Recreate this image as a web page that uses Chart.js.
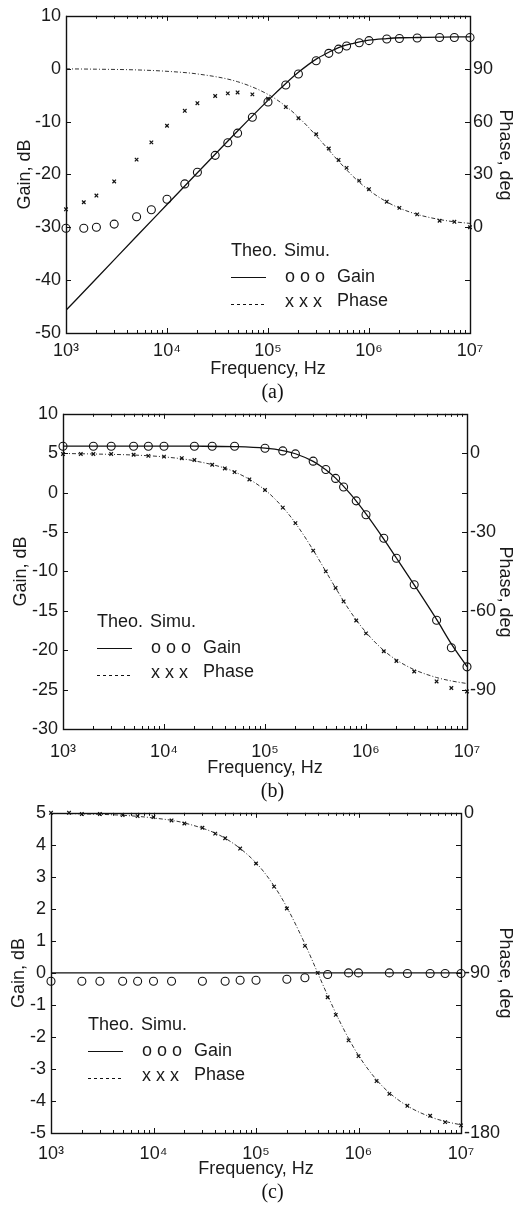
<!DOCTYPE html>
<html>
<head>
<meta charset="utf-8">
<script src="https://cdn.jsdelivr.net/npm/chart.js@4/dist/chart.umd.min.js"></script>
<style>
  html, body { margin: 0; padding: 0; background: #fff; }
  #page { position: relative; width: 521px; height: 1207px; overflow: hidden; }
  canvas { position: absolute; left: 0; }
  .cap { position: absolute; left: 0; width: 545px; text-align: center; font: 20px "Liberation Serif", "Times New Roman", serif; color: #111; }
</style>
</head>
<body>
<div id="page">
  <canvas id="chartA" width="521" height="381" style="top:0px"></canvas>
  <div class="cap" style="top:380px">(a)</div>
  <canvas id="chartB" width="521" height="381" style="top:398px"></canvas>
  <div class="cap" style="top:779px">(b)</div>
  <canvas id="chartC" width="521" height="385" style="top:797px"></canvas>
  <div class="cap" style="top:1180px">(c)</div>
</div>
<script>
// frequency axis
const X_TICKS = [1e3, 1e4, 1e5, 1e6, 1e7];
const X_TICK_LABELS = ['10\u00B3', '10\u2074', '10\u2075', '10\u2076', '10\u2077'];

// theoretical curves
const FREQ_THEO = [1e3, 2e3, 5e3, 1e4, 2e4, 5e4, 1e5, 1.5e5, 2e5, 3e5, 4e5, 5e5, 7e5, 1e6, 1.5e6, 2e6, 3e6, 5e6, 7e6, 1e7];
const GAIN_THEO_A  = [-45.7, -39.7, -31.7, -25.7, -19.7, -11.8, -6.0, -2.8, -0.7, 1.8, 3.1, 4.0, 4.8, 5.4, 5.7, 5.85, 5.9, 5.95, 6.0, 6.0];
const PHASE_THEO_A = [89.9, 89.7, 89.3, 88.5, 87.0, 82.6, 75.4, 68.7, 62.5, 52.0, 43.8, 37.5, 28.7, 21.0, 14.4, 10.9, 7.3, 4.4, 3.1, 2.2];
const GAIN_THEO_B  = [5.9, 5.9, 5.9, 5.9, 5.89, 5.83, 5.64, 5.34, 4.93, 3.96, 2.89, 1.84, -0.17, -2.7, -5.9, -8.3, -11.7, -16.1, -19.2, -22.1];
const PHASE_THEO_B = [-0.1, -0.3, -0.7, -1.4, -2.9, -7.1, -14.0, -20.6, -26.6, -36.9, -45.0, -51.3, -60.3, -68.2, -75.1, -78.7, -82.4, -85.4, -86.7, -87.7];
const GAIN_THEO_C  = [0, 0, 0, 0, 0, 0, 0, 0, 0, 0, 0, 0, 0, 0, 0, 0, 0, 0, 0, 0];
const PHASE_THEO_C = [-0.3, -0.6, -1.4, -2.9, -5.7, -14.3, -28.1, -41.1, -53.1, -73.7, -90.0, -102.7, -120.5, -136.4, -150.1, -157.4, -164.8, -170.9, -173.5, -175.4];

// simulated points, panel (a)
const FREQ_SIM_A = [1e3, 1.5e3, 2e3, 3e3, 5e3, 7e3, 1e4, 1.5e4, 2e4, 3e4, 4e4, 5e4, 7e4, 1e5, 1.5e5, 2e5, 3e5, 4e5, 5e5, 6e5, 8e5, 1e6, 1.5e6, 2e6, 3e6, 5e6, 7e6, 1e7];
const GAIN_SIM_A  = [-30.2, -30.2, -30.0, -29.4, -28.0, -26.7, -24.7, -21.8, -19.6, -16.4, -14.0, -12.2, -9.2, -6.3, -3.1, -1.0, 1.5, 2.9, 3.7, 4.3, 4.9, 5.3, 5.6, 5.7, 5.8, 5.9, 5.9, 5.9];
const PHASE_SIM_A = [10.2, 14.2, 18.0, 26.0, 38.4, 48.2, 57.6, 66.1, 70.4, 74.5, 76.0, 76.5, 75.4, 73.0, 68.2, 61.9, 52.8, 44.7, 38.2, 33.7, 26.5, 21.6, 14.5, 11.0, 7.3, 3.7, 3.1, 0.0];

// simulated points, panel (b)
const FREQ_GAIN_SIM_B = [1e3, 2e3, 3e3, 5e3, 7e3, 1e4, 2e4, 3e4, 5e4, 1e5, 1.5e5, 2e5, 3e5, 4e5, 5e5, 6e5, 8e5, 1e6, 1.5e6, 2e6, 3e6, 5e6, 7e6, 1e7];
const GAIN_SIM_B = [5.88, 5.88, 5.88, 5.88, 5.88, 5.88, 5.88, 5.88, 5.88, 5.63, 5.29, 4.91, 3.99, 2.94, 1.80, 0.71, -1.05, -2.82, -5.80, -8.33, -11.69, -16.19, -19.68, -22.11];
const FREQ_PHASE_SIM = [1e3, 1.5e3, 2e3, 3e3, 5e3, 7e3, 1e4, 1.5e4, 2e4, 3e4, 4e4, 5e4, 7e4, 1e5, 1.5e5, 2e5, 3e5, 4e5, 5e5, 6e5, 8e5, 1e6, 1.5e6, 2e6, 3e6, 5e6, 7e6, 1e7];
const PHASE_SIM_B = [-0.3, -0.3, -0.3, -0.3, -0.6, -1.0, -1.3, -1.9, -2.6, -4.4, -5.8, -7.2, -10.0, -14.0, -20.7, -26.6, -37.1, -45.0, -51.3, -56.4, -63.7, -68.6, -75.4, -79.1, -83.1, -86.9, -89.4, -90.7];

// simulated points, panel (c)
const FREQ_GAIN_SIM_C = [1e3, 2e3, 3e3, 5e3, 7e3, 1e4, 1.5e4, 3e4, 5e4, 7e4, 1e5, 2e5, 3e5, 5e5, 8e5, 1e6, 2e6, 3e6, 5e6, 7e6, 1e7];
const GAIN_SIM_C = [-0.26, -0.26, -0.26, -0.26, -0.26, -0.26, -0.26, -0.26, -0.26, -0.23, -0.23, -0.2, -0.15, -0.05, 0.0, 0.0, 0.0, -0.02, -0.02, -0.02, -0.02];
const PHASE_SIM_C = [0, 0, -0.7, -0.7, -1.3, -1.9, -2.4, -4.3, -6.0, -8.4, -11.7, -14.3, -20.1, -28.5, -41.5, -53.8, -74.8, -90.0, -103.7, -113.6, -127.9, -136.8, -150.8, -158.0, -164.7, -170.3, -173.9, -175.7];

const FONT = '"Liberation Sans", Arial, sans-serif';
const FS = 18;
const TXT = '#1a1a1a';

function pts(xs, ys) {
  return xs.map(function(x, i) { return { x: x, y: ys[i] }; });
}

// box, inward ticks, right title and the Theo./Simu. legend
const decorPlugin = {
  id: 'decor',
  afterDraw: function(chart, args, o) {
    const ctx = chart.ctx;
    const a = chart.chartArea;
    const xs = chart.scales.x, ys = chart.scales.y;
    ctx.save();
    ctx.strokeStyle = '#111';
    ctx.lineWidth = 1;
    ctx.beginPath();
    ys.ticks.forEach(function(t) {
      const py = Math.round(ys.getPixelForValue(t.value)) + 0.5;
      ctx.moveTo(a.left, py); ctx.lineTo(a.left + 5, py);
      ctx.moveTo(a.right, py); ctx.lineTo(a.right - 5, py);
    });
    for (let d = 3; d < 7; d++) {
      for (let m = 1; m < 10; m++) {
        const px = Math.round(xs.getPixelForValue(m * Math.pow(10, d))) + 0.5;
        const len = m === 1 ? 5 : 3;
        ctx.moveTo(px, a.bottom); ctx.lineTo(px, a.bottom - len);
        ctx.moveTo(px, a.top); ctx.lineTo(px, a.top + len);
      }
    }
    ctx.stroke();
    ctx.lineWidth = 1.4;
    ctx.strokeRect(Math.round(a.left) + 0.5, Math.round(a.top) + 0.5, Math.round(a.right - a.left), Math.round(a.bottom - a.top));

    ctx.fillStyle = TXT;
    ctx.font = FS + 'px ' + FONT;
    ctx.textBaseline = 'middle';

    // right axis title
    ctx.save();
    ctx.translate(505, o.phaseTitleY);
    ctx.rotate(Math.PI / 2);
    ctx.textAlign = 'center';
    ctx.fillText('Phase, deg', 0, 0);
    ctx.restore();

    // legend
    const L = o.legX, T = o.legY;
    ctx.textAlign = 'left';
    ctx.fillText('Theo.', L, T);
    ctx.fillText('Simu.', L + 53, T);
    ctx.fillText('o o o', L + 54, T + 26);
    ctx.fillText('Gain', L + 106, T + 26);
    ctx.fillText('x x x', L + 54, T + 51);
    ctx.fillText('Phase', L + 106, T + 50);
    ctx.lineWidth = 1.2;
    ctx.strokeStyle = '#111';
    ctx.beginPath();
    ctx.moveTo(L, T + 26.5); ctx.lineTo(L + 35, T + 26.5);
    ctx.stroke();
    ctx.lineWidth = 1;
    ctx.setLineDash([3, 3]);
    ctx.beginPath();
    ctx.moveTo(L, T + 53.5); ctx.lineTo(L + 36, T + 53.5);
    ctx.stroke();
    ctx.restore();
  }
};

function makePanel(id, p) {
  return new Chart(document.getElementById(id), {
    type: 'scatter',
    data: {
      datasets: [
        { data: pts(p.simGainF, p.simGain), yAxisID: 'y', pointStyle: 'circle', pointRadius: 4, borderWidth: 1.1,
          borderColor: '#111', backgroundColor: 'rgba(0,0,0,0)', clip: false },
        { data: pts(p.simPhaseF, p.simPhase), yAxisID: 'y2', pointStyle: 'crossRot', pointRadius: 2.5, borderWidth: 1.2,
          borderColor: '#111', backgroundColor: '#111', clip: false },
        { data: pts(FREQ_THEO, p.theoGain), yAxisID: 'y', showLine: true, pointRadius: 0, borderWidth: 1.3,
          borderColor: '#111', cubicInterpolationMode: 'monotone' },
        { data: pts(FREQ_THEO, p.theoPhase), yAxisID: 'y2', showLine: true, pointRadius: 0, borderWidth: 1,
          borderColor: '#333', borderDash: [4, 2, 1, 2], cubicInterpolationMode: 'monotone' }
      ]
    },
    options: {
      responsive: false,
      animation: false,
      devicePixelRatio: 1,
      layout: { padding: { top: 14, left: 0, right: 0, bottom: 0 } },
      plugins: {
        legend: { display: false },
        tooltip: { enabled: false },
        decor: { legX: p.legX, legY: p.legY, phaseTitleY: p.phaseTitleY }
      },
      scales: {
        x: {
          type: 'logarithmic', min: 1e3, max: 1e7,
          grid: { display: false, drawTicks: false }, border: { display: false },
          afterBuildTicks: function(s) { s.ticks = X_TICKS.map(function(v) { return { value: v }; }); },
          ticks: {
            autoSkip: false, maxRotation: 0, padding: p.xPad, color: TXT,
            font: { family: FONT, size: FS },
            callback: function(v) { return X_TICK_LABELS[X_TICKS.indexOf(v)]; }
          },
          title: { display: true, text: 'Frequency, Hz', color: TXT, font: { family: FONT, size: FS },
                   padding: { top: 0, bottom: p.xTitlePad } },
          afterFit: function(s) { s.height = p.xH; }
        },
        y: {
          position: 'left', min: p.gainMin, max: p.gainMax,
          grid: { display: false, drawTicks: false }, border: { display: false },
          ticks: { stepSize: p.gainStep, padding: p.yPad, color: TXT, font: { family: FONT, size: FS } },
          title: { display: true, text: 'Gain, dB', color: TXT, font: { family: FONT, size: FS },
                   padding: { top: p.yTitlePad, bottom: 0 } },
          afterFit: function(s) { s.width = p.leftW; }
        },
        y2: {
          position: 'right', min: p.phaseMin, max: p.phaseMax,
          grid: { display: false, drawTicks: false }, border: { display: false },
          afterBuildTicks: function(s) { s.ticks = p.phaseTicks.map(function(v) { return { value: v }; }); },
          ticks: { padding: 3, color: TXT, font: { family: FONT, size: FS } },
          afterFit: function(s) { s.width = p.rightW; }
        }
      }
    },
    plugins: [decorPlugin]
  });
}

makePanel('chartA', {
  simGainF: FREQ_SIM_A, simGain: GAIN_SIM_A, simPhaseF: FREQ_SIM_A, simPhase: PHASE_SIM_A,
  theoGain: GAIN_THEO_A, theoPhase: PHASE_THEO_A,
  gainMin: -50, gainMax: 10, gainStep: 10,
  phaseMin: -60, phaseMax: 120, phaseTicks: [0, 30, 60, 90],
  leftW: 66, rightW: 51, xH: 48, xPad: 7, xTitlePad: 1, yPad: 5, yTitlePad: 14,
  legX: 231, legY: 251, phaseTitleY: 155
});

makePanel('chartB', {
  simGainF: FREQ_GAIN_SIM_B, simGain: GAIN_SIM_B, simPhaseF: FREQ_PHASE_SIM, simPhase: PHASE_SIM_B,
  theoGain: GAIN_THEO_B, theoPhase: PHASE_THEO_B,
  gainMin: -30, gainMax: 10, gainStep: 5,
  phaseMin: -105, phaseMax: 15, phaseTicks: [-90, -60, -30, 0],
  leftW: 63, rightW: 54, xH: 50, xPad: 12, xTitlePad: 0, yPad: 5, yTitlePad: 10,
  legX: 97, legY: 622 - 398, phaseTitleY: 592 - 398
});

makePanel('chartC', {
  simGainF: FREQ_GAIN_SIM_C, simGain: GAIN_SIM_C, simPhaseF: FREQ_PHASE_SIM, simPhase: PHASE_SIM_C,
  theoGain: GAIN_THEO_C, theoPhase: PHASE_THEO_C,
  gainMin: -5, gainMax: 5, gainStep: 1,
  phaseMin: -180, phaseMax: 0, phaseTicks: [-180, -90, 0],
  leftW: 51, rightW: 60, xH: 49, xPad: 10, xTitlePad: 2, yPad: 5, yTitlePad: 8,
  legX: 88, legY: 1025 - 797, phaseTitleY: 973 - 797
});
</script>
</body>
</html>
